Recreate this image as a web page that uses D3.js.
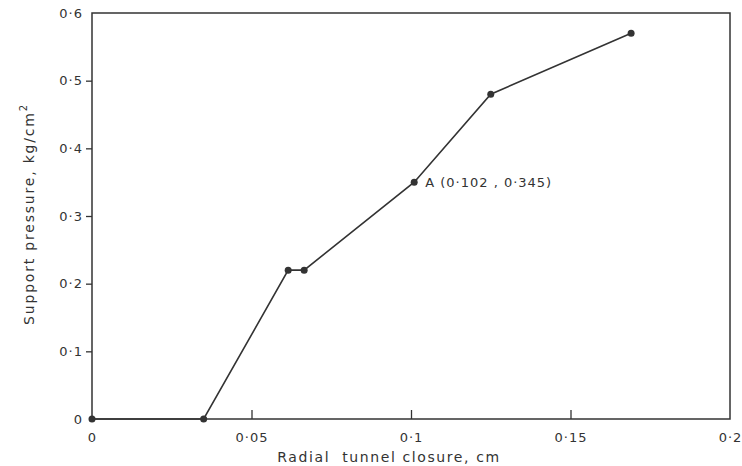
<!DOCTYPE html>
<html>
<head>
<meta charset="utf-8">
<script src="https://cdn.jsdelivr.net/npm/d3@7"></script>
<style>
  body { margin: 0; background: #fff; }
  text { font-family: "DejaVu Sans", sans-serif; fill: #333; letter-spacing: 1px; }
</style>
</head>
<body>
<div id="chart"></div>
<script>
// radial tunnel closure (cm) vs support pressure (kg/cm2)
var closure = [0, 0.035, 0.0615, 0.0665, 0.101, 0.125, 0.169];
var pressure = [0, 0, 0.22, 0.22, 0.35, 0.48, 0.57];
const xTicks = [0, 0.05, 0.1, 0.15, 0.2];
const yTicks = [0, 0.1, 0.2, 0.3, 0.4, 0.5, 0.6];
const pointA = {x: 0.101, y: 0.35, label: "A (0·102 , 0·345)"};

var margin = {top: 13, right: 12, bottom: 47, left: 92};
var width = 742 - margin.left - margin.right;
const height = 466 - margin.top - margin.bottom;

const svg = d3.select("#chart")
    .append("svg")
    .attr("width", 742)
    .attr("height", 466)
    .append("g")
    .attr("transform", "translate(" + margin.left + "," + margin.top + ")");

var xScale = d3.scaleLinear().domain([0, 0.2]).range([0, width]);
var yScale = d3.scaleLinear().domain([0, 0.6]).range([height, 0]);

function fmt(d) { return d === 0 ? "0" : String(d).replace(".", "·"); }

// frame
svg.append("rect")
    .attr("width", width)
    .attr("height", height)
    .attr("fill", "none")
    .attr("stroke", "#333")
    .attr("stroke-width", 1.5);

// x axis: ticks point inward
var xAxis = svg.append("g")
    .attr("transform", "translate(0," + height + ")")
    .call(d3.axisBottom(xScale).tickValues(xTicks).tickSize(-9).tickPadding(14).tickFormat(fmt));
xAxis.select(".domain").remove();
xAxis.selectAll("line").attr("stroke", "#333").attr("stroke-width", 1.3)
    .filter(function(d) { return d === 0 || d === 0.2; }).remove();
xAxis.selectAll("text").style("font-size", "13px").attr("fill", "#333");

// y axis: ticks point outward
var yAxis = svg.append("g")
    .call(d3.axisLeft(yScale).tickValues(yTicks).tickSize(6).tickPadding(3).tickFormat(fmt));
yAxis.select(".domain").remove();
yAxis.selectAll("line").attr("stroke", "#333").attr("stroke-width", 1.3)
    .filter(function(d) { return d === 0 || d === 0.6; }).remove();
yAxis.selectAll("text").style("font-size", "13px").attr("fill", "#333");

svg.append("text")
    .attr("x", width / 2 - 22)
    .attr("y", height + 43)
    .style("text-anchor", "middle")
    .style("font-size", "14px")
    .style("letter-spacing", "1.6px")
    .attr("xml:space", "preserve")
    .text("Radial  tunnel closure, cm");

var yLabel = svg.append("text")
    .attr("transform", "rotate(-90)")
    .attr("x", -height / 2 + 2)
    .attr("y", -58)
    .style("text-anchor", "middle")
    .style("font-size", "14px")
    .style("letter-spacing", "1.8px");
yLabel.append("tspan").text("Support pressure, kg/cm");
yLabel.append("tspan").attr("dy", -7).style("font-size", "10px").text("2");

var pts = closure.map(function(c, i) { return [c, pressure[i]]; });

svg.append("path")
    .datum(pts)
    .attr("fill", "none")
    .attr("stroke", "#333")
    .attr("stroke-width", 1.6)
    .attr("d", d3.line().x(function(d) { return xScale(d[0]); }).y(function(d) { return yScale(d[1]); }));

svg.selectAll(".pt")
    .data(pts)
    .enter().append("circle")
    .attr("cx", function(d) { return xScale(d[0]); })
    .attr("cy", function(d) { return yScale(d[1]); })
    .attr("r", 3.5)
    .attr("fill", "#333");

svg.append("text")
    .attr("x", xScale(pointA.x) + 11)
    .attr("y", yScale(pointA.y) + 5)
    .style("font-size", "13px")
    .text(pointA.label);
</script>
</body>
</html>
